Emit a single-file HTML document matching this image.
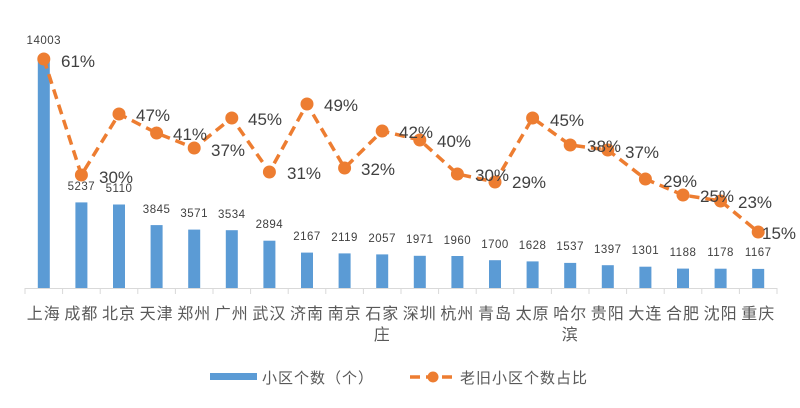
<!DOCTYPE html>
<html><head><meta charset="utf-8"><style>
html,body{margin:0;padding:0;background:#fff;}
svg{display:block;font-family:"Liberation Sans","Noto Sans CJK SC",sans-serif;}
.v{font-size:11.5px;fill:#404040;text-anchor:middle;letter-spacing:0.5px;}
.p{font-size:17px;fill:#404040;}
.c{font-size:16px;fill:#595959;text-anchor:middle;letter-spacing:1px;}
</style></head><body>
<svg width="800" height="408" viewBox="0 0 800 408">
<g fill="#5B9BD5">
<rect x="37.8" y="59" width="12" height="229"/>
<rect x="75.4" y="202.4" width="12" height="85.6"/>
<rect x="113" y="204.5" width="12" height="83.5"/>
<rect x="150.6" y="225.1" width="12" height="62.9"/>
<rect x="188.2" y="229.6" width="12" height="58.4"/>
<rect x="225.8" y="230.2" width="12" height="57.8"/>
<rect x="263.4" y="240.7" width="12" height="47.3"/>
<rect x="301" y="252.6" width="12" height="35.4"/>
<rect x="338.6" y="253.4" width="12" height="34.6"/>
<rect x="376.2" y="254.4" width="12" height="33.6"/>
<rect x="413.8" y="255.8" width="12" height="32.2"/>
<rect x="451.4" y="256" width="12" height="32"/>
<rect x="489" y="260.2" width="12" height="27.8"/>
<rect x="526.6" y="261.4" width="12" height="26.6"/>
<rect x="564.2" y="262.9" width="12" height="25.1"/>
<rect x="601.8" y="265.2" width="12" height="22.8"/>
<rect x="639.4" y="266.7" width="12" height="21.3"/>
<rect x="677" y="268.6" width="12" height="19.4"/>
<rect x="714.6" y="268.7" width="12" height="19.3"/>
<rect x="752.2" y="268.9" width="12" height="19.1"/>
</g>
<g stroke="#d9d9d9" stroke-width="1">
<line x1="25" y1="288.5" x2="777" y2="288.5"/>
<path d="M25 288v6M62.6 288v6M100.2 288v6M137.8 288v6M175.4 288v6M213 288v6M250.6 288v6M288.2 288v6M325.8 288v6M363.4 288v6M401 288v6M438.6 288v6M476.2 288v6M513.8 288v6M551.4 288v6M589 288v6M626.6 288v6M664.2 288v6M701.8 288v6M739.4 288v6M777 288v6"/>
</g>
<g class="v">
<text x="43.8" y="44">14003</text>
<text x="81.4" y="190">5237</text>
<text x="119" y="192">5110</text>
<text x="156.6" y="213">3845</text>
<text x="194.2" y="217">3571</text>
<text x="231.8" y="218">3534</text>
<text x="269.4" y="228">2894</text>
<text x="307" y="240">2167</text>
<text x="344.6" y="241">2119</text>
<text x="382.2" y="242">2057</text>
<text x="419.8" y="243">1971</text>
<text x="457.4" y="244">1960</text>
<text x="495" y="248">1700</text>
<text x="532.6" y="249">1628</text>
<text x="570.2" y="250">1537</text>
<text x="607.8" y="253">1397</text>
<text x="645.4" y="254">1301</text>
<text x="683" y="256">1188</text>
<text x="720.6" y="256">1178</text>
<text x="758.2" y="256">1167</text>
</g>
<polyline fill="none" stroke="#ED7D31" stroke-width="3.5" stroke-dasharray="10,6" points="43.8,59 81.4,175 119,114 156.6,133 194.2,148 231.8,118 269.4,172 307,104 344.6,168 382.2,131 419.8,140 457.4,174 495,182 532.6,118 570.2,145 607.8,150 645.4,179 683,195 720.6,201 758.2,232"/>
<g fill="#ED7D31">
<circle cx="43.8" cy="59" r="6.5"/><circle cx="81.4" cy="175" r="6.5"/><circle cx="119" cy="114" r="6.5"/><circle cx="156.6" cy="133" r="6.5"/><circle cx="194.2" cy="148" r="6.5"/><circle cx="231.8" cy="118" r="6.5"/><circle cx="269.4" cy="172" r="6.5"/><circle cx="307" cy="104" r="6.5"/><circle cx="344.6" cy="168" r="6.5"/><circle cx="382.2" cy="131" r="6.5"/><circle cx="419.8" cy="140" r="6.5"/><circle cx="457.4" cy="174" r="6.5"/><circle cx="495" cy="182" r="6.5"/><circle cx="532.6" cy="118" r="6.5"/><circle cx="570.2" cy="145" r="6.5"/><circle cx="607.8" cy="150" r="6.5"/><circle cx="645.4" cy="179" r="6.5"/><circle cx="683" cy="195" r="6.5"/><circle cx="720.6" cy="201" r="6.5"/><circle cx="758.2" cy="232" r="6.5"/>
</g>
<g class="p">
<text x="61" y="67">61%</text>
<text x="99" y="183">30%</text>
<text x="136" y="121">47%</text>
<text x="173" y="140">41%</text>
<text x="211" y="156">37%</text>
<text x="248" y="125">45%</text>
<text x="287" y="179">31%</text>
<text x="324" y="111">49%</text>
<text x="361" y="175">32%</text>
<text x="399" y="138">42%</text>
<text x="437" y="147">40%</text>
<text x="475" y="181">30%</text>
<text x="512" y="188">29%</text>
<text x="550" y="126">45%</text>
<text x="587" y="152">38%</text>
<text x="625" y="158">37%</text>
<text x="663" y="187">29%</text>
<text x="700" y="202">25%</text>
<text x="738" y="208">23%</text>
<text x="762" y="239">15%</text>
</g>
<g class="c">
<text x="43.8" y="319">上海</text>
<text x="81.4" y="319">成都</text>
<text x="119" y="319">北京</text>
<text x="156.6" y="319">天津</text>
<text x="194.2" y="319">郑州</text>
<text x="231.8" y="319">广州</text>
<text x="269.4" y="319">武汉</text>
<text x="307" y="319">济南</text>
<text x="344.6" y="319">南京</text>
<text x="382.2" y="319">石家</text>
<text x="382.2" y="340">庄</text>
<text x="419.8" y="319">深圳</text>
<text x="457.4" y="319">杭州</text>
<text x="495" y="319">青岛</text>
<text x="532.6" y="319">太原</text>
<text x="570.2" y="319">哈尔</text>
<text x="570.2" y="340">滨</text>
<text x="607.8" y="319">贵阳</text>
<text x="645.4" y="319">大连</text>
<text x="683" y="319">合肥</text>
<text x="720.6" y="319">沈阳</text>
<text x="758.2" y="319">重庆</text>
</g>
<rect x="210" y="373" width="47" height="7" fill="#5B9BD5"/>
<text x="262" y="383" style="font-size:15px;fill:#595959;letter-spacing:1px">小区个数（个）</text>
<line x1="410" y1="377" x2="456" y2="377" stroke="#ED7D31" stroke-width="3.5" stroke-dasharray="10,6"/>
<circle cx="433" cy="377" r="5.5" fill="#ED7D31"/>
<text x="460" y="383" style="font-size:15px;fill:#595959;letter-spacing:1px">老旧小区个数占比</text>
</svg>
</body></html>
